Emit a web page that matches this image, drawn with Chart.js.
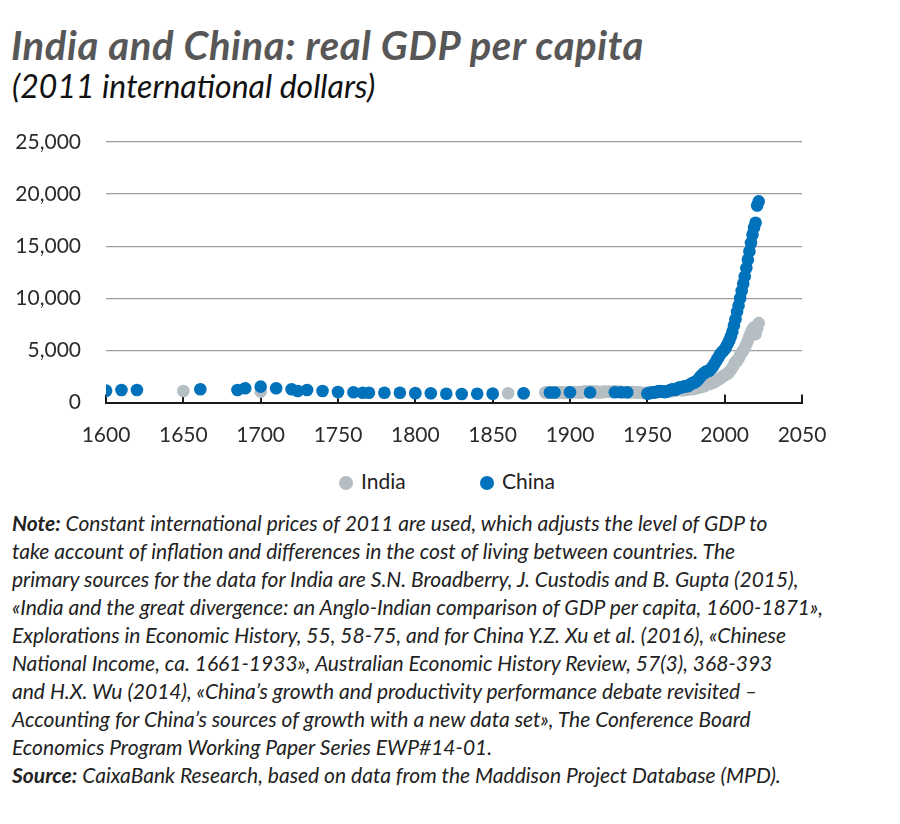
<!DOCTYPE html>
<html>
<head>
<meta charset="utf-8">
<script src="https://cdn.jsdelivr.net/npm/chart.js@4.4.1/dist/chart.umd.min.js"></script>
<style>
  body { margin: 0; background: #fff; width: 900px; height: 824px; position: relative; overflow: hidden; font-family: Lato, "Open Sans", sans-serif; }
  #title { position: absolute; left: 11px; top: 23px; font-size: 40px; line-height: 44px; font-weight: 700; font-style: italic; color: #575757; white-space: nowrap; letter-spacing: 0.6px; }
  #subtitle { position: absolute; left: 12px; top: 68px; font-size: 32px; line-height: 36px; font-style: italic; color: #111; white-space: nowrap; }
  #box { position: absolute; left: 0; top: 100px; width: 900px; height: 360px; }
  #legend { position: absolute; top: 468px; left: 0; width: 900px; height: 26px; font-size: 21px; color: #222; }
  .lg { position: absolute; top: 0; line-height: 26px; white-space: nowrap; }
  .dot { display: inline-block; width: 14px; height: 14px; border-radius: 7px; vertical-align: -1px; margin-right: 8px; }
  #note { position: absolute; left: 12px; top: 509px; font-size: 21px; line-height: 28px; font-style: italic; color: #222; white-space: nowrap; }
  #note b { font-style: italic; }
</style>
</head>
<body>
<div id="title">India and China: real GDP per capita</div>
<div id="subtitle">(2011 international dollars)</div>
<div id="box"><canvas id="chart"></canvas></div>
<div id="legend"></div>
<div id="note">
<b>Note:</b> Constant international prices of 2011 are used, which adjusts the level of GDP to<br>
take account of inflation and differences in the cost of living between countries. The<br>
primary sources for the data for India are S.N. Broadberry, J. Custodis and B. Gupta (2015),<br>
«India and the great divergence: an Anglo-Indian comparison of GDP per capita, 1600-1871»,<br>
Explorations in Economic History, 55, 58-75, and for China Y.Z. Xu et al. (2016), «Chinese<br>
National Income, ca. 1661-1933», Australian Economic History Review, 57(3), 368-393<br>
and H.X. Wu (2014), «China’s growth and productivity performance debate revisited –<br>
Accounting for China’s sources of growth with a new data set», The Conference Board<br>
Economics Program Working Paper Series EWP#14-01.<br>
<b>Source:</b> CaixaBank Research, based on data from the Maddison Project Database (MPD).
</div>
<script>
// series names and colours
const seriesNames = ["India", "China"];
const seriesColors = ["#b5bec2", "#0071bb"];

// axis ticks
const xTicks = [1600, 1650, 1700, 1750, 1800, 1850, 1900, 1950, 2000, 2050];
const yTicks = [0, 5000, 10000, 15000, 20000, 25000];

// India: benchmark years before the annual series
const indiaSparseYears = [1600, 1650, 1700, 1750, 1800, 1850, 1860, 1870];
const indiaSparseGdp = [1100, 1105, 1040, 1000, 930, 880, 885, 870];

// India: annual values from 1884 to 2022
const indiaAnnualStart = 1884;
const indiaAnnualGdp = [
  960, 970, 960, 980, 975, 960, 990, 940, 975, 990, 985, 970, 930, 910, 990, 950,
  940, 960, 1000, 1010, 1010, 990, 1000, 960, 970, 1040,
  1040, 1040, 1050, 1020, 1040, 1020, 1040, 1030, 960, 1030,
  980, 1000, 1040, 1020, 1030, 1020, 1030, 1020, 1030, 1040,
  1040, 1030, 1030, 1020, 1010, 1000, 1010, 990, 980, 990,
  1000, 1000, 980, 990, 970, 960, 930, 910, 910, 920,
  930, 940, 950, 980, 990, 990, 1020, 990, 1040, 1040,
  1070, 1080, 1080, 1110, 1150, 1090, 1080, 1130, 1140, 1190,
  1220, 1210, 1180, 1200, 1190, 1250, 1250, 1310, 1350, 1270,
  1320, 1370, 1390, 1450, 1470, 1510, 1550, 1580, 1690, 1760,
  1820, 1810, 1880, 1940, 2040, 2140, 2250, 2300, 2410, 2550,
  2610, 2700, 2770, 2950, 3130, 3370, 3620, 3890, 3980, 4230,
  4580, 4800, 5000, 5250, 5580, 5960, 6370, 6730, 7030, 7220,
  6560, 7130, 7620
];

// China: scattered estimates before 1950
const chinaSparseYears = [1600, 1610, 1620, 1661, 1685, 1690, 1700, 1710, 1720, 1724, 1730, 1740,
  1750, 1760, 1766, 1770, 1780, 1790, 1800, 1810, 1820, 1830, 1840, 1850, 1870,
  1887, 1890, 1900, 1913, 1929, 1933, 1937];
const chinaSparseGdp = [1135, 1200, 1200, 1270, 1200, 1365, 1520, 1365, 1270, 1105, 1200, 1105,
  1010, 980, 940, 940, 940, 940, 885, 885, 845, 820, 845, 845, 885,
  960, 960, 980, 960, 980, 980, 990];

// China: annual values from 1950 to 2022
const chinaAnnualStart = 1950;
const chinaAnnualGdp = [
  850, 880, 920, 950, 960, 980, 1030, 1050, 1100, 1080,
  1060, 1000, 1020, 1070, 1130, 1200, 1260, 1240, 1230, 1300,
  1400, 1430, 1450, 1510, 1520, 1580, 1560, 1640, 1760, 1860,
  1900, 1960, 2080, 2220, 2420, 2600, 2720, 2860, 2980, 3000,
  3050, 3200, 3380, 3600, 3850, 4100, 4350, 4600, 4800, 4950,
  5100, 5350, 5650, 5950, 6350, 6800, 7400, 8000, 8700, 9300,
  10000, 10700, 11400, 12100, 12900, 13700, 14500, 15300, 16100, 16800,
  17250, 18900, 19300
];

function toPoints(years, values) {
  return years.map((y, i) => ({ x: y, y: values[i] }));
}
function annualPoints(start, values) {
  return values.map((v, i) => ({ x: start + i, y: v }));
}

const indiaData = toPoints(indiaSparseYears, indiaSparseGdp).concat(annualPoints(indiaAnnualStart, indiaAnnualGdp));
const chinaData = toPoints(chinaSparseYears, chinaSparseGdp).concat(annualPoints(chinaAnnualStart, chinaAnnualGdp));

// legend in html
const legend = document.getElementById("legend");
const legendLeft = [339, 480];
seriesNames.forEach((name, i) => {
  const item = document.createElement("div");
  item.className = "lg";
  item.style.left = legendLeft[i] + "px";
  item.innerHTML = '<span class="dot" style="background:' + seriesColors[i] + '"></span>' + name;
  legend.appendChild(item);
});

// small tick marks pointing up from the x axis
const innerTicks = {
  id: "innerTicks",
  beforeDatasetsDraw(chart) {
    const ctx = chart.ctx;
    const xs = chart.scales.x;
    const bottom = chart.chartArea.bottom;
    ctx.save();
    ctx.strokeStyle = "#1a1a1a";
    ctx.lineWidth = 2;
    xTicks.forEach(t => {
      const px = Math.round(xs.getPixelForValue(t));
      ctx.beginPath();
      ctx.moveTo(px, bottom);
      ctx.lineTo(px, bottom - 8);
      ctx.stroke();
    });
    ctx.restore();
  }
};

new Chart(document.getElementById("chart"), {
  type: "scatter",
  data: {
    datasets: [
      {
        label: seriesNames[0],
        data: indiaData,
        backgroundColor: seriesColors[0],
        borderWidth: 0,
        pointRadius: 6.3,
        order: 2
      },
      {
        label: seriesNames[1],
        data: chinaData,
        backgroundColor: seriesColors[1],
        borderWidth: 0,
        pointRadius: 6.3,
        order: 1
      }
    ]
  },
  plugins: [innerTicks],
  options: {
    responsive: true,
    maintainAspectRatio: false,
    animation: false,
    layout: { padding: { top: 42, right: 98, left: 0, bottom: 0 } },
    plugins: {
      legend: { display: false },
      tooltip: { enabled: false },
      title: { display: false }
    },
    scales: {
      x: {
        type: "linear",
        min: xTicks[0],
        max: xTicks[xTicks.length - 1],
        afterBuildTicks: (scale) => { scale.ticks = xTicks.map(v => ({ value: v })); },
        afterFit: (scale) => { scale.height = 57.5; },
        grid: { display: false, drawTicks: false },
        border: { display: true, color: "#1a1a1a", width: 2 },
        ticks: {
          padding: 20,
          color: "#2b2b2b",
          font: { family: "Lato", size: 21 },
          maxRotation: 0,
          callback: (v) => String(v)
        }
      },
      y: {
        min: yTicks[0],
        max: yTicks[yTicks.length - 1],
        afterBuildTicks: (scale) => { scale.ticks = yTicks.map(v => ({ value: v })); },
        afterFit: (scale) => { scale.width = 106; },
        grid: {
          drawTicks: false,
          color: (c) => (c.tick && c.tick.value === 0 ? "rgba(0,0,0,0)" : "#9d9d9d"),
          lineWidth: 1.3
        },
        border: { display: false },
        ticks: {
          padding: 25,
          color: "#2b2b2b",
          font: { family: "Lato", size: 21 },
          callback: (v) => v.toLocaleString("en-US")
        }
      }
    }
  }
});
</script>
</body>
</html>
